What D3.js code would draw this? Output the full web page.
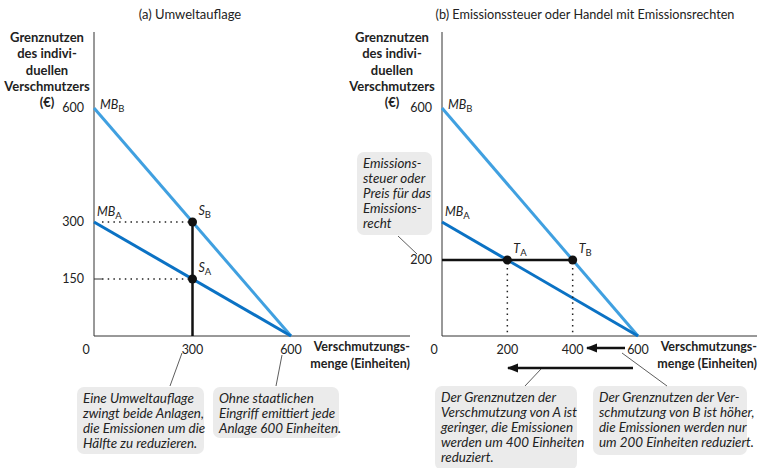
<!DOCTYPE html>
<html>
<head>
<meta charset="utf-8">
<script src="https://cdn.jsdelivr.net/npm/d3@7"></script>
<style>
  body { margin: 0; background: #fff; }
  text { font-family: Lato, "Open Sans", sans-serif; fill: #222; }
</style>
</head>
<body>
<div id="chart"></div>
<script>
// Data
const maxQty = 600;
const mbA = [[0, 300], [600, 0]];
const mbB = [[0, 600], [600, 0]];
const xTicksLeft = [0, 300, 600];
const yTicksLeft = [150, 300, 600];
const xTicksRight = [0, 200, 400, 600];
const yTicksRight = [200, 600];
const standard = 300;          // Umweltauflage
const pointsLeft = [
    {x: 300, y: 300, name: "S", sub: "B"},
    {x: 300, y: 150, name: "S", sub: "A"}
];
const tax = 200;               // Emissionssteuer
const pointsRight = [
    {x: 200, y: 200, name: "T", sub: "A"},
    {x: 400, y: 200, name: "T", sub: "B"}
];
const yLabel = ["Grenznutzen", "des indivi-", "duellen", "Verschmutzers", "(€)"];
const xLabel = ["Verschmutzungs-", "menge (Einheiten)"];

const colA = "#0b72c4";
const colB = "#40a0e0";

const width = 760, height = 468;
const svg = d3.select("#chart").append("svg").attr("width", width).attr("height", height);

// Panel setup
function createPanel(x0, x600, axisEnd, labelX) {
    const x = d3.scaleLinear().domain([0, maxQty]).range([x0, x600]);
    const y = d3.scaleLinear().domain([0, maxQty]).range([336, 108]);
    const g = svg.append("g");
    // axes
    g.append("line").attr("x1", x0).attr("x2", x0).attr("y1", 32).attr("y2", 336)
        .attr("stroke", "#333").attr("stroke-width", 1);
    g.append("line").attr("x1", x0).attr("x2", axisEnd).attr("y1", 336).attr("y2", 336)
        .attr("stroke", "#333").attr("stroke-width", 1);
    // y axis label
    g.append("text").attr("text-anchor", "middle").attr("font-size", 13).attr("font-weight", 700)
        .selectAll("tspan").data(yLabel).join("tspan")
        .attr("x", labelX).attr("y", (d, i) => 42 + i * 16.3).text(d => d);
    // x axis label
    g.append("text").attr("text-anchor", "end").attr("font-size", 12.5).attr("font-weight", 700)
        .selectAll("tspan").data(xLabel).join("tspan")
        .attr("x", axisEnd).attr("y", (d, i) => 351 + i * 16.5).text(d => d);
    return {x, y, g};
}

function tickLabels(p, xt, yt) {
    p.g.append("g").selectAll("text").data(xt).join("text")
        .attr("x", d => d === 0 ? p.x(0) - 8 : p.x(d))
        .attr("y", 354).attr("text-anchor", "middle").attr("font-size", 12.5).attr("fill", "#333")
        .text(d => d);
    p.g.append("g").selectAll("text").data(yt).join("text")
        .attr("x", p.x(0) - 10).attr("y", d => p.y(d) + 4)
        .attr("text-anchor", "end").attr("font-size", 12.5).attr("fill", "#333")
        .text(d => d);
}

function curves(p) {
    const line = d3.line().x(d => p.x(d[0])).y(d => p.y(d[1]));
    p.g.append("path").datum(mbB).attr("d", line).attr("fill", "none")
        .attr("stroke", colB).attr("stroke-width", 3);
    p.g.append("path").datum(mbA).attr("d", line).attr("fill", "none")
        .attr("stroke", colA).attr("stroke-width", 3);
    mbLabel(p, p.x(0) + 6, p.y(600) + 1, "B");
    mbLabel(p, p.x(0) + 3, p.y(300) - 6, "A");
}

function mbLabel(p, x, y, sub) {
    const t = p.g.append("text").attr("x", x).attr("y", y).attr("font-size", 12.5)
        .attr("font-style", "italic").attr("fill", "#333");
    t.append("tspan").text("MB");
    t.append("tspan").attr("font-size", 9.5).attr("font-style", "normal").attr("dy", 3).text(sub);
}

function pointLabel(p, d) {
    const t = p.g.append("text").attr("x", p.x(d.x) + 6).attr("y", p.y(d.y) - 7)
        .attr("font-size", 12.5).attr("font-style", "italic").attr("fill", "#333");
    t.append("tspan").text(d.name);
    t.append("tspan").attr("font-size", 9.5).attr("font-style", "normal").attr("dy", 3).text(d.sub);
}

function dots(p, pts) {
    p.g.append("g").selectAll("circle").data(pts).join("circle")
        .attr("cx", d => p.x(d.x)).attr("cy", d => p.y(d.y)).attr("r", 4.5).attr("fill", "#111");
}

function dotted(g, x1, y1, x2, y2) {
    g.append("line").attr("x1", x1).attr("y1", y1).attr("x2", x2).attr("y2", y2)
        .attr("stroke", "#222").attr("stroke-width", 1.5)
        .attr("stroke-dasharray", "1.5 4.2");
}

function callout(x, y, w, h, lines, lh) {
    svg.append("rect").attr("x", x).attr("y", y).attr("width", w).attr("height", h)
        .attr("rx", 7).attr("fill", "#ebebeb");
    svg.append("text").attr("font-size", 13.4).attr("font-style", "italic").attr("fill", "#333")
        .selectAll("tspan").data(lines).join("tspan")
        .attr("x", x + 6).attr("y", (d, i) => y + 16 + i * (lh || 15)).text(d => d);
}

function pointer(x1, y1, x2, y2) {
    svg.append("line").attr("x1", x1).attr("y1", y1).attr("x2", x2).attr("y2", y2)
        .attr("stroke", "#333").attr("stroke-width", 0.8);
}

// Titles
svg.append("text").attr("x", 190).attr("y", 19).attr("text-anchor", "middle")
    .attr("font-size", 13).text("(a) Umweltauflage");
svg.append("text").attr("x", 585).attr("y", 19).attr("text-anchor", "middle")
    .attr("font-size", 12.7).text("(b) Emissionssteuer oder Handel mit Emissionsrechten");

// Panel (a)
const left = createPanel(94, 291, 410, 47);
curves(left);
pointsLeft.forEach(d => dotted(left.g, left.x(0) + 8, left.y(d.y), left.x(d.x) - 4, left.y(d.y)));
left.g.append("line").attr("x1", left.x(0)).attr("x2", left.x(0) + 8)
    .attr("y1", left.y(150)).attr("y2", left.y(150)).attr("stroke", "#333").attr("stroke-width", 1);
left.g.append("line").attr("x1", left.x(standard)).attr("x2", left.x(standard))
    .attr("y1", left.y(300)).attr("y2", left.y(0)).attr("stroke", "#111").attr("stroke-width", 2.5);
dots(left, pointsLeft);
pointsLeft.forEach(d => pointLabel(left, d));
tickLabels(left, xTicksLeft, yTicksLeft);

// Panel (b)
const right = createPanel(442, 638, 757, 392);
curves(right);
pointsRight.forEach(d => dotted(right.g, right.x(d.x), right.y(d.y) + 8, right.x(d.x), right.y(0)));
right.g.append("line").attr("x1", right.x(0)).attr("x2", right.x(400))
    .attr("y1", right.y(tax)).attr("y2", right.y(tax)).attr("stroke", "#111").attr("stroke-width", 2.5);
dots(right, pointsRight);
pointsRight.forEach(d => pointLabel(right, d));
tickLabels(right, xTicksRight, yTicksRight);

// reduction arrows
svg.append("defs").append("marker").attr("id", "arr").attr("viewBox", "0 0 10 10")
    .attr("refX", 9).attr("refY", 5).attr("markerWidth", 4.5).attr("markerHeight", 4.5)
    .attr("orient", "auto").append("path").attr("d", "M0,1 L10,5 L0,9 Z").attr("fill", "#111");
svg.append("line").attr("x1", 625).attr("x2", 587).attr("y1", 348).attr("y2", 348)
    .attr("stroke", "#111").attr("stroke-width", 2.5).attr("marker-end", "url(#arr)");
svg.append("line").attr("x1", 633).attr("x2", 508).attr("y1", 368).attr("y2", 368)
    .attr("stroke", "#111").attr("stroke-width", 2.5).attr("marker-end", "url(#arr)");

// Annotations
callout(77, 387, 127, 67, ["Eine Umweltauflage", "zwingt beide Anlagen,", "die Emissionen um die", "Hälfte zu reduzieren."]);
pointer(170, 386, 182, 353);
callout(213, 387, 126, 51, ["Ohne staatlichen", "Eingriff emittiert jede", "Anlage 600 Einheiten."]);
pointer(276, 386, 282, 355);
callout(357, 152, 75, 83, ["Emissions-", "steuer oder", "Preis für das", "Emissions-", "recht"], 15);
pointer(398, 236, 417, 254);
callout(435, 386, 142, 84, ["Der Grenznutzen der", "Verschmutzung von A ist", "geringer, die Emissionen", "werden um 400 Einheiten", "reduziert."]);
pointer(525, 386, 541, 369);
callout(593, 386, 154, 69, ["Der Grenznutzen der Ver-", "schmutzung von B ist höher,", "die Emissionen werden nur", "um 200 Einheiten reduziert."]);
pointer(667, 386, 622, 353);
</script>
</body>
</html>
